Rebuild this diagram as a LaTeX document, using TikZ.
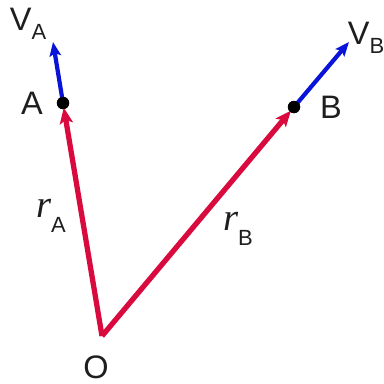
\documentclass[tikz,border=0pt]{standalone}
\usepackage{fontspec}
\setmainfont{Liberation Sans}
\newfontfamily\rfont{Liberation Serif}
\usetikzlibrary{arrows.meta}
\definecolor{posvec}{HTML}{D90A3E}
\definecolor{velvec}{HTML}{0A14D8}
\definecolor{lbltext}{HTML}{1E1E1E}

\begin{document}
\begin{tikzpicture}[x=0.02cm, y=-0.02cm, font=\fontsize{18.5}{20}\selectfont, text=lbltext,
    dot/.style={circle, fill=black, minimum size=7pt, inner sep=0pt},
    lbl/.style={inner sep=0pt},
    rvec/.style={posvec, line width=3pt, -{Stealth[length=9pt, width=7.5pt, inset=2pt]}, shorten >=-1pt},
    vvec/.style={velvec, line width=2.4pt, -{Stealth[length=8pt, width=6.5pt, inset=1.5pt]}}]
  \useasboundingbox (0,0) rectangle (384,383);
  % points
  \coordinate (O) at (102,336);
  \node[dot] (A) at (63,103) {};
  \node[dot] (B) at (294,107) {};
  \coordinate (vA) at (53,42);
  \coordinate (vB) at (349,42);
  % position vectors
  \draw[rvec] (O) -- (A);
  \draw[rvec] (O) -- (B);
  % velocities
  \draw[vvec] (A.center) -- (vA);
  \draw[vvec] (B.center) -- (vB);
  \node[dot] at (A) {};
  \node[dot] at (B) {};
  % labels
  \node[lbl] (lblO) at (96,367) {O};
  \node[lbl] (lblA) at (32,103) {A};
  \node[lbl] (lblB) at (331,107) {B};
  \node[lbl] (lblvA) at (28,24) {V\raisebox{-0.5ex}{\fontsize{12.5}{13}\selectfont A}};
  \node[lbl] (lblvB) at (366,38) {V\raisebox{-0.5ex}{\fontsize{12.5}{13}\selectfont B}};
  \node[lbl] (lblrA) at (51,216) {{\rfont\itshape\fontsize{22}{24}\selectfont r}\raisebox{-0.9ex}{\fontsize{12.5}{13}\selectfont A}};
  \node[lbl] (lblrB) at (238,229) {{\rfont\itshape\fontsize{22}{24}\selectfont r}\raisebox{-0.9ex}{\fontsize{12.5}{13}\selectfont B}};
\end{tikzpicture}
\end{document}
